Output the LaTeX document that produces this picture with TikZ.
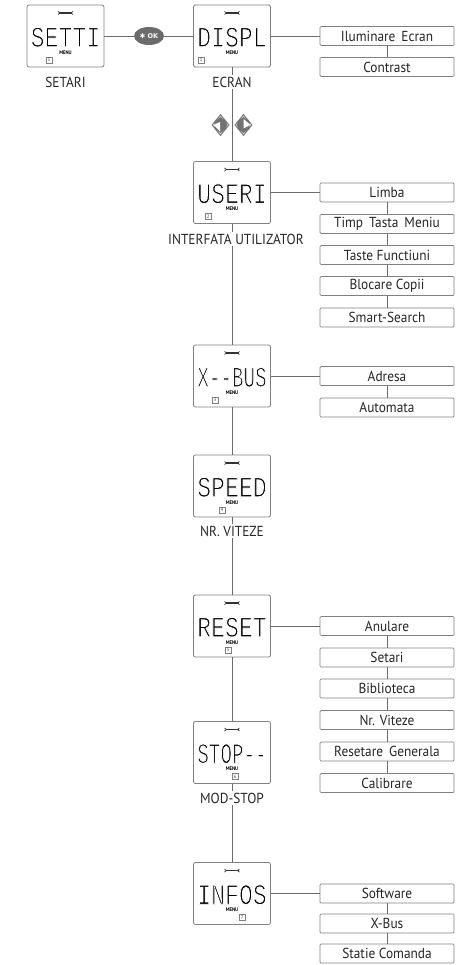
\documentclass[tikz,border=0pt]{standalone}
\usepackage{fontspec}
\usetikzlibrary{shapes.geometric}
\setmainfont[FakeStretch=0.92]{PT Sans}
\newfontfamily\lcdfont[FakeStretch=0.8]{Liberation Mono}
\newfontfamily\symfont{DejaVu Sans}
\definecolor{ln}{gray}{0.42}
\definecolor{bx}{gray}{0.5}
\newcommand{\thinlcd}[1]{\special{pdf:code q 2 Tr 1 1 1 RG 0.85 w}#1\special{pdf:code Q}}
\tikzset{
  lcd/.style={draw=bx,line width=.8pt,rounded corners=2pt,minimum width=77pt,minimum height=62pt,inner sep=0pt},
  opt/.style={draw=bx,fill=white,line width=.7pt,rounded corners=1pt,minimum width=134pt,minimum height=19pt,inner sep=0pt,font=\fontsize{14.5}{16}\selectfont,text=black!85},
  lbl/.style={fill=white,inner sep=1.5pt,font=\fontsize{14.5}{16}\selectfont,text=black!85},
  lcdtxt/.style={inner sep=0pt,text height=18.5pt,text depth=0pt,font=\lcdfont\fontsize{29}{30}\selectfont,text=black},
  menu/.style={inner sep=0pt,text height=3.6pt,text depth=0pt,font=\bfseries\fontsize{5.2}{6}\selectfont,text=black},
  numbox/.style={draw=bx,line width=.4pt,minimum size=6pt,inner sep=0pt,font=\fontsize{5}{5}\selectfont,text=black!75},
  wire/.style={draw=ln,line width=.8pt},
  keydia/.style={draw=black!50,line width=1.2pt,fill=white,diamond,aspect=.85,minimum width=17pt,minimum height=21pt,inner sep=0pt},
}
\newcommand{\lcdunit}[7][1]{% xscale, name, x, y centre, text, number x, number
  \node[lcd,fill=white] (#2) at (#3,#4) {};
  \node[lcdtxt,transform shape,xscale=#1] (#2t) at (#3,#4+1.5) {\thinlcd{#5}};
  \node[menu] (#2m) at (#3,#4+16.5) {MENU};
  \node[numbox] (#2n) at (#6,#4+24) {#7};
  \draw[line width=1.1pt,black!80] (#3-6.5,#4-23) -- (#3+6.5,#4-23);
  \draw[line width=.7pt,black!80] (#3-7.5,#4-24.5) -- (#3-5.5,#4-23) -- (#3-7.5,#4-21.5)
     (#3+7.5,#4-24.5) -- (#3+5.5,#4-23) -- (#3+7.5,#4-21.5);
}
\begin{document}
\begin{tikzpicture}[x=1pt,y=-1pt]
\useasboundingbox (0,0) rectangle (460,965);
\fill[white] (0,0) rectangle (460,965);

\lcdunit{setti}{65.5}{36}{SETTI}{49}{3}
\lcdunit{displ}{232}{36}{DISPL}{201}{1}
\lcdunit{useri}{232}{192.5}{USERI}{208}{2}
\lcdunit[.83]{xbus}{232}{376}{X--BUS}{215}{3}
\lcdunit{speed}{232}{486}{SPEED}{222}{4}
\lcdunit{reset}{232}{626}{RESET}{228}{5}
\lcdunit[.83]{stop}{232}{752.5}{STOP--}{235}{6}
\lcdunit{infos}{232}{893.5}{INFOS}{242}{7}

\node[ellipse,fill=black!58,minimum width=30pt,minimum height=18pt,inner sep=0pt,text=white,font=\symfont\bfseries\fontsize{6.5}{7}\selectfont] (ok) at (149,36) {✱ OK};

\node[opt] (a1) at (387,36) {Iluminare\, Ecran};
\node[opt] (a2) at (387,67) {Contrast};
\node[opt] (b1) at (387,192.5) {Limba};
\node[opt] (b2) at (387,224) {Timp\, Tasta\, Meniu};
\node[opt] (b3) at (387,255) {Taste Functiuni};
\node[opt] (b4) at (387,286) {Blocare Copii};
\node[opt] (b5) at (387,317.5) {Smart-Search};
\node[opt] (d1) at (387,376) {Adresa};
\node[opt] (d2) at (387,407.5) {Automata};
\node[opt] (e1) at (387,626) {Anulare};
\node[opt] (e2) at (387,657.5) {Setari};
\node[opt] (e3) at (387,688.5) {Biblioteca};
\node[opt] (e4) at (387,720) {Nr. Viteze};
\node[opt] (e5) at (387,751.5) {Resetare\, Generala};
\node[opt] (e6) at (387,783) {Calibrare};
\node[opt] (f1) at (387,893.5) {Software};
\node[opt] (f2) at (387,923.5) {X-Bus};
\node[opt] (f3) at (387,953.5) {Statie Comanda};

\draw[wire] (setti) -- (ok);
\draw[wire] (ok) -- (displ);
\draw[wire] (displ) -- (a1);
\draw[wire] (displ) -- (useri);
\draw[wire] (useri) -- (b1);
\draw[wire] (useri) -- (xbus);
\draw[wire] (xbus) -- (d1);
\draw[wire] (xbus) -- (speed);
\draw[wire] (speed) -- (reset);
\draw[wire] (reset) -- (e1);
\draw[wire] (reset) -- (stop);
\draw[wire] (stop) -- (infos);
\draw[wire] (infos) -- (f1);
\draw[wire] (a1) -- (a2);
\draw[wire] (b1) -- (b2) (b2) -- (b3) (b3) -- (b4) (b4) -- (b5);
\draw[wire] (d1) -- (d2);
\draw[wire] (e1) -- (e2) (e2) -- (e3) (e3) -- (e4) (e4) -- (e5) (e5) -- (e6);
\draw[wire] (f1) -- (f2) (f2) -- (f3);

\node[lbl] (c1) at (65.5,82) {SETARI};
\node[lbl] (c2) at (232,82) {ECRAN};
\node[lbl] (c3) at (236,239) {INTERFATA UTILIZATOR};
\node[lbl] (c4) at (232,531) {NR. VITEZE};
\node[lbl] (c5) at (232,798) {MOD-STOP};

\node[keydia] (dl) at (220.5,125) {};
\node[keydia] (dr) at (243.5,125) {};
\fill[black!55] (220.5,117) -- (226,121) -- (227,125) -- (226,129) -- (220.5,133) -- (215,129) -- (214,125) -- (215,121) -- cycle;
\fill[white] (213.5,125) -- (220,122) -- (220,131.5) -- cycle;
\fill[black!55] (243.5,117) -- (249,121) -- (250,125) -- (249,129) -- (243.5,133) -- (238,129) -- (237,125) -- (238,121) -- cycle;
\fill[white] (243.5,119) -- (250.5,125) -- (243.5,128.5) -- cycle;
\end{tikzpicture}
\end{document}
